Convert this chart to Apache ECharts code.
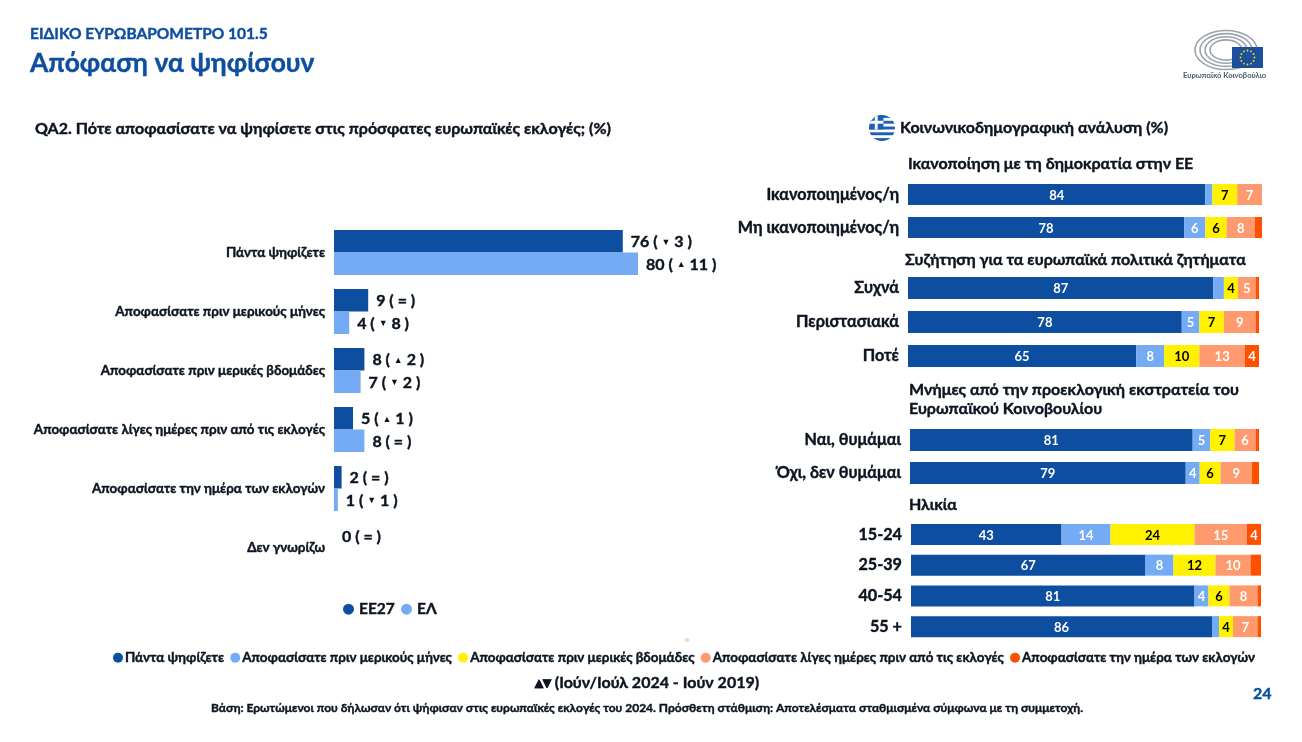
<!DOCTYPE html>
<html><head><meta charset="utf-8">
<style>html,body{margin:0;padding:0;background:#fff}#c{width:1302px;height:742px}</style>
<script src="https://cdn.jsdelivr.net/npm/echarts@6/dist/echarts.min.js"></script>
</head><body><div id="c"></div>
<script>
const FONT = 'Lato,"Open Sans",sans-serif';
const INK = '#0b1420', BLUE = '#0d4ea0', LIGHT = '#74abf4';
const HEAVY = 0.4;

const whenCats = ['Πάντα ψηφίζετε','Αποφασίσατε πριν μερικούς μήνες','Αποφασίσατε πριν μερικές βδομάδες','Αποφασίσατε λίγες ημέρες πριν από τις εκλογές','Αποφασίσατε την ημέρα των εκλογών','Δεν γνωρίζω'];
const eu27Values = [76,9,8,5,2,0];
const elValues = [80,4,7,8,1,null];
const eu27Change = ['▼|3','=','▲|2','▲|1','=','='];
const elChange = ['▲|11','▼|8','▼|2','=','▼|1',''];

const stackNames = ['Πάντα ψηφίζετε','Αποφασίσατε πριν μερικούς μήνες','Αποφασίσατε πριν μερικές βδομάδες','Αποφασίσατε λίγες ημέρες πριν από τις εκλογές','Αποφασίσατε την ημέρα των εκλογών'];
const stackColors = [BLUE,LIGHT,'#fff100','#ff9a6e','#ff5000'];

const satisfactionCats = ['Ικανοποιημένος/η','Μη ικανοποιημένος/η'];
const satisfactionRows = [[84,2,7,7,0],[78,6,6,8,2]];
const discussionCats = ['Συχνά','Περιστασιακά','Ποτέ'];
const discussionRows = [[87,3,4,5,1],[78,5,7,9,1],[65,8,10,13,4]];
const memoryCats = ['Ναι, θυμάμαι','Όχι, δεν θυμάμαι'];
const memoryRows = [[81,5,7,6,1],[79,4,6,9,2]];
const ageCats = ['15-24','25-39','40-54','55 +'];
const ageRows = [[43,14,24,15,4],[67,8,12,10,3],[81,4,6,8,1],[86,2,4,7,1]];

const panels = [
 {cats:satisfactionCats,rows:satisfactionRows,left:908,width:354,top:178,height:66,bar:21},
 {cats:discussionCats,rows:discussionRows,left:908,width:351,top:271,height:102,bar:22},
 {cats:memoryCats,rows:memoryRows,left:910,width:349,top:423.5,height:66,bar:22},
 {cats:ageCats,rows:ageRows,left:911,width:350,top:519,height:123,bar:21}
];

const grids = [{left:334,top:223,width:380,height:354}];
const xAxes = [{gridIndex:0,type:'value',min:0,max:100,show:false}];
const yAxes = [{gridIndex:0,type:'category',inverse:true,data:whenCats,
  axisLine:{show:false},axisTick:{show:false},
  axisLabel:{margin:9,fontFamily:FONT,fontWeight:700,fontSize:13.4,color:INK,textBorderColor:INK,textBorderWidth:HEAVY,lineHeight:16,padding:[1,0,0,0]}}];

function changeLabel(v,ch){
  if(v===null) return '';
  const p = ch.split('|');
  return p.length===1 ? '{a|'+v+' ( = )}' : '{a|'+v+' ( }{t|'+p[0]+'}{a| '+p[1]+' )}';
}
const richText = {a:{fontFamily:FONT,fontWeight:700,fontSize:16,color:INK,textBorderColor:INK,textBorderWidth:HEAVY},t:{fontFamily:FONT,fontSize:9,color:INK,padding:[0,0,1,0]}};

const series = [
 {name:'ΕΕ27',type:'bar',xAxisIndex:0,yAxisIndex:0,data:eu27Values,barWidth:22.5,barGap:'0%',itemStyle:{color:BLUE},
  label:{show:true,position:'right',distance:8,offset:[0,1],rich:richText,formatter:p=>changeLabel(p.value,eu27Change[p.dataIndex])}},
 {name:'ΕΛ',type:'bar',xAxisIndex:0,yAxisIndex:0,data:elValues,barWidth:22.5,barGap:'0%',itemStyle:{color:LIGHT},
  label:{show:true,position:'right',distance:8,offset:[0,1],rich:richText,formatter:p=>changeLabel(p.value,elChange[p.dataIndex])}}
];

panels.forEach((g,i)=>{
  const k=i+1;
  grids.push({left:g.left,top:g.top,width:g.width,height:g.height});
  xAxes.push({gridIndex:k,type:'value',min:0,max:100,show:false});
  yAxes.push({gridIndex:k,type:'category',inverse:true,data:g.cats,axisLine:{show:false},axisTick:{show:false},
    axisLabel:{margin:9,fontFamily:FONT,fontWeight:700,fontSize:16.2,color:INK,textBorderColor:INK,textBorderWidth:HEAVY,padding:[3,0,0,0]}});
  stackNames.forEach((n,s)=>{
    series.push({name:n,type:'bar',stack:'p'+k,xAxisIndex:k,yAxisIndex:k,barWidth:g.bar,
      data:g.rows.map(r=>r[s]),itemStyle:{color:stackColors[s]},
      label:{show:true,position:'inside',offset:[0,1],fontFamily:FONT,fontWeight:700,fontSize:13,
        color:s===2?'#000':'#fff',textBorderWidth:0,formatter:p=>p.value>=4?String(p.value):''}});
  });
});

function txt(x,y,text,size,color,extra){
  return {type:'text',x,y,silent:true,style:Object.assign({text,fontFamily:FONT,fontWeight:700,fontSize:size,fill:color,stroke:color,lineWidth:HEAVY,verticalAlign:'middle'},extra||{})};
}
const flagSvg = 'data:image/svg+xml;charset=utf-8,'+encodeURIComponent(
 '<svg xmlns="http://www.w3.org/2000/svg" width="26" height="26" viewBox="0 0 27 27"><defs><clipPath id="k"><circle cx="13.5" cy="13.5" r="13.5"/></clipPath></defs><g clip-path="url(#k)"><rect width="27" height="27" fill="#fff"/>'+
 [0,6,12,18,24].map(y=>'<rect y="'+y+'" width="27" height="3" fill="#1f5fb0"/>').join('')+
 '<rect width="15" height="15" fill="#1f5fb0"/><rect x="6" width="3" height="15" fill="#fff"/><rect y="6" width="15" height="3" fill="#fff"/></g></svg>');

const logoArcs = [31,26,21,16].map(r=>({type:'ellipse',silent:true,shape:{cx:1226,cy:50,rx:r,ry:r*0.63},style:{fill:'none',stroke:'#9aa3ae',lineWidth:1.6}}));
const stars = Array.from({length:12},(_, i)=>{const a=i*Math.PI/6;return {type:'circle',silent:true,shape:{cx:1247.5+7*Math.cos(a),cy:57.5+7*Math.sin(a),r:0.9},style:{fill:'#ffe000'}};});

const graphic = [
 txt(30,34,'ΕΙΔΙΚΟ ΕΥΡΩΒΑΡΟΜΕΤΡΟ 101.5',15.5,BLUE),
 txt(30,63,'Απόφαση να ψηφίσουν',26.4,BLUE),
 txt(35,129,'QA2. Πότε αποφασίσατε να ψηφίσετε στις πρόσφατες ευρωπαϊκές εκλογές; (%)',16,INK),
 {type:'image',silent:true,style:{image:flagSvg,x:869,y:115,width:26,height:26}},
 txt(900,128,'Κοινωνικοδημογραφική ανάλυση (%)',16,INK),
 txt(908,164,'Ικανοποίηση με τη δημοκρατία στην ΕΕ',16,INK),
 txt(905,260,'Συζήτηση για τα ευρωπαϊκά πολιτικά ζητήματα',16,INK),
 txt(909,390,'Μνήμες από την προεκλογική εκστρατεία του',16,INK),
 txt(909,409,'Ευρωπαϊκού Κοινοβουλίου',16,INK),
 txt(909,505,'Ηλικία',16,INK),
 txt(647,683,'▴▾ (Ιούν/Ιούλ 2024 - Ιούν 2019)',16,INK,{align:'center'}),
 txt(647,708,'Βάση: Ερωτώμενοι που δήλωσαν ότι ψήφισαν στις ευρωπαϊκές εκλογές του 2024. Πρόσθετη στάθμιση: Αποτελέσματα σταθμισμένα σύμφωνα με τη συμμετοχή.',12,INK,{align:'center'}),
 txt(1253,694,'24',16,BLUE),
 ...logoArcs,
 {type:'rect',silent:true,shape:{x:1232,y:47,width:31,height:21},style:{fill:'#1c4f9c'}},
 ...stars,
 txt(1183,76,'Ευρωπαϊκό Κοινοβούλιο',7.6,'#4a5a6a',{lineWidth:0}),
 {type:'circle',silent:true,shape:{cx:687,cy:640,r:1.5},style:{fill:'#fff',stroke:'#e9b070',lineWidth:0.8}}
];

const chart = echarts.init(document.getElementById('c'),null,{renderer:'canvas'});
chart.setOption({
  animation:false,
  grid:grids,xAxis:xAxes,yAxis:yAxes,series,graphic,
  legend:[
   {data:['ΕΕ27','ΕΛ'],left:338,top:596,itemWidth:11,itemHeight:11,itemGap:6,icon:'circle',selectedMode:false,
    textStyle:{fontFamily:FONT,fontWeight:700,fontSize:15.5,color:INK,textBorderColor:INK,textBorderWidth:HEAVY}},
   {data:stackNames,left:108,top:646,itemWidth:10,itemHeight:10,itemGap:6,icon:'circle',selectedMode:false,
    textStyle:{fontFamily:FONT,fontWeight:700,fontSize:13.4,color:INK,textBorderColor:INK,textBorderWidth:HEAVY,padding:[0,0,0,-3]}}
  ]
});
</script></body></html>
